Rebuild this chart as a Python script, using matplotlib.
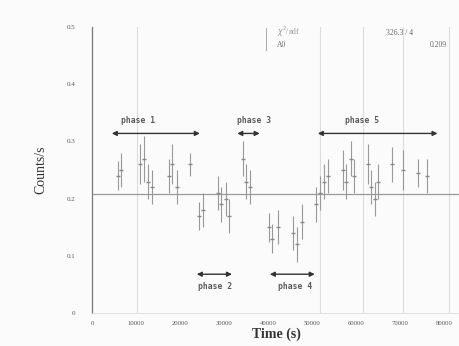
import matplotlib
matplotlib.use("Agg")
import matplotlib.pyplot as plt
import numpy as np

# ---- data ----
time_s = [5800, 6600, 11000, 11800, 12800, 13600, 17400, 18200, 19200, 22300,
          24200, 25200, 28600, 29400, 30400, 31200,
          34200, 35000, 35800,
          40200, 41000, 42200, 45600, 46600, 47600,
          50800, 51800, 52800, 53600, 57000, 57800, 58800, 59600,
          62600, 63400, 64200, 65000, 68200, 70600, 74000, 76200]
rate = [0.24, 0.25, 0.26, 0.27, 0.23, 0.22, 0.24, 0.26, 0.22, 0.26,
        0.17, 0.18, 0.21, 0.19, 0.20, 0.17,
        0.27, 0.23, 0.22,
        0.15, 0.13, 0.15, 0.14, 0.12, 0.16,
        0.19, 0.21, 0.23, 0.24, 0.25, 0.23, 0.27, 0.24,
        0.26, 0.22, 0.20, 0.23, 0.26, 0.25, 0.245, 0.24]
rate_err = [0.025, 0.03, 0.035, 0.04, 0.03, 0.03, 0.03, 0.035, 0.03, 0.02,
            0.025, 0.03, 0.03, 0.03, 0.03, 0.03,
            0.03, 0.03, 0.03,
            0.025, 0.025, 0.03, 0.03, 0.03, 0.03,
            0.03, 0.03, 0.03, 0.03, 0.035, 0.03, 0.03, 0.03,
            0.035, 0.03, 0.03, 0.03, 0.03, 0.035, 0.025, 0.03]
fit_const = 0.209
fit_chi2 = "326.3 / 4"
fit_a0 = "0.209"

phase_names = ["phase 1", "phase 2", "phase 3", "phase 4", "phase 5"]
phase_start = [4500, 23800, 33000, 40400, 51300]
phase_end = [24500, 31800, 38100, 50600, 78500]
phase_level = [0.314, 0.068, 0.314, 0.068, 0.314]
phase_text_x = [10400, 27900, 36800, 46100, 61300]
phase_text_y = [0.337, 0.046, 0.337, 0.046, 0.337]

x_ticks = [0, 10000, 20000, 30000, 40000, 50000, 60000, 70000, 80000]
y_ticks = [0, 0.1, 0.2, 0.3, 0.4, 0.5]
y_tick_labels = ["0", "0.1", "0.2", "0.3", "0.4", "0.5"]
scan_lines = [10200, 51800, 61500, 70700, 81000]

# ---- figure ----
fig = plt.figure(figsize=(4.6, 3.46), dpi=100)
fig.patch.set_facecolor("#fbfbfb")
ax = fig.add_axes([0.2, 0.095, 0.8, 0.827])
ax.set_facecolor("#fbfbfb")
ax.set_xlim(0, 83600)
ax.set_ylim(0, 0.5)

for xl in scan_lines:
    ax.axvline(xl, color="#dcdcdc", lw=0.8, zorder=0)

ax.axhline(fit_const, color="#9a9a9a", lw=0.9, zorder=1)

ax.errorbar(time_s, rate, yerr=rate_err, fmt="none", ecolor="#999999",
            elinewidth=0.8, capsize=0, zorder=2)
ax.plot(time_s, rate, ls="none", marker="_", ms=2.5, color="#888888", zorder=3)

for name, xs, xe, lv, tx, ty in zip(phase_names, phase_start, phase_end,
                                      phase_level, phase_text_x, phase_text_y):
    ax.annotate("", xy=(xs, lv), xytext=(xe, lv),
                arrowprops=dict(arrowstyle="<|-|>", color="#333333", lw=1.0,
                                mutation_scale=7, shrinkA=0, shrinkB=0))
    ax.text(tx, ty, name, ha="center", va="center", fontsize=5.8,
            family="DejaVu Sans Mono", fontweight="bold", color="#5a5a5a")

ax.set_xticks(x_ticks)
ax.set_xticklabels([str(v) for v in x_ticks], fontsize=4.8, family="Liberation Serif",
                   color="#555555")
ax.set_yticks(y_ticks)
ax.set_yticklabels(y_tick_labels, fontsize=5, family="Liberation Serif", color="#555555")
ax.tick_params(axis="x", length=0, pad=6)
ax.tick_params(axis="y", length=0, pad=12)

for s in ["top", "right"]:
    ax.spines[s].set_visible(False)
ax.spines["left"].set_color("#777777")
ax.spines["left"].set_linewidth(0.9)
ax.spines["bottom"].set_color("#dddddd")
ax.spines["bottom"].set_linewidth(0.6)

ax.set_xlabel("Time (s)", fontsize=10, family="Liberation Serif", fontweight="bold",
              color="#333333", labelpad=1)
ax.set_ylabel("Counts/s", fontsize=10, family="Liberation Serif", color="#333333",
              labelpad=14)

# fit statistics box
fig.text(0.603, 0.9, r"$\chi^2$/ndf", fontsize=5.5, family="Liberation Serif", color="#999999")
fig.text(0.603, 0.865, "A0", fontsize=5.5, family="Liberation Serif", color="#666666")
fig.text(0.84, 0.9, fit_chi2, fontsize=5.5, family="Liberation Serif", color="#666666")
fig.text(0.935, 0.865, fit_a0, fontsize=5.5, family="Liberation Serif", color="#666666")
fig.add_artist(plt.Line2D([0.578, 0.578], [0.855, 0.92], color="#aaaaaa", lw=0.7))

fig.savefig("out.png", dpi=100, facecolor=fig.get_facecolor())
